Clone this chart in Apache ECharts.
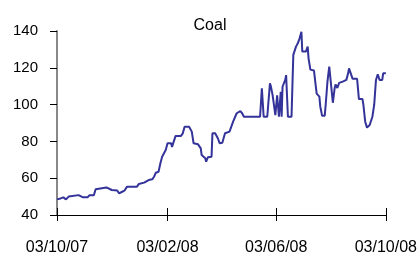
<!DOCTYPE html>
<html>
<head>
<meta charset="utf-8">
<script src="https://cdn.jsdelivr.net/npm/echarts@6/dist/echarts.min.js"></script>
<style>
    html, body { margin: 0; padding: 0; background: #fff; }
    #coalChart { width: 420px; height: 257px; }
</style>
</head>
<body>
<div id="coalChart"></div>
<script>
var dates = [
    '2007-10-03', '2007-10-07', '2007-10-10', '2007-10-13', '2007-10-16', '2007-10-27',
    '2007-11-01', '2007-11-06', '2007-11-08', '2007-11-13', '2007-11-15', '2007-11-27',
    '2007-11-28', '2007-12-03', '2007-12-09', '2007-12-11', '2007-12-14', '2007-12-17',
    '2007-12-20', '2007-12-31', '2008-01-02', '2008-01-08', '2008-01-13', '2008-01-17',
    '2008-01-19', '2008-01-21', '2008-01-24', '2008-01-26', '2008-01-28', '2008-02-01',
    '2008-02-03', '2008-02-07', '2008-02-08', '2008-02-10', '2008-02-12', '2008-02-18',
    '2008-02-20', '2008-02-22', '2008-02-27', '2008-03-01', '2008-03-03', '2008-03-08',
    '2008-03-11', '2008-03-12', '2008-03-16', '2008-03-17', '2008-03-19', '2008-03-23',
    '2008-03-24', '2008-03-27', '2008-03-30', '2008-04-01', '2008-04-04', '2008-04-07',
    '2008-04-12', '2008-04-16', '2008-04-20', '2008-04-24', '2008-04-26', '2008-04-28',
    '2008-05-16', '2008-05-18', '2008-05-20', '2008-05-24', '2008-05-27', '2008-05-28',
    '2008-05-30', '2008-06-02', '2008-06-04', '2008-06-06', '2008-06-08', '2008-06-09',
    '2008-06-10', '2008-06-13', '2008-06-14', '2008-06-16', '2008-06-20', '2008-06-22',
    '2008-06-25', '2008-06-27', '2008-06-29', '2008-07-01', '2008-07-02', '2008-07-06',
    '2008-07-08', '2008-07-09', '2008-07-11', '2008-07-15', '2008-07-17', '2008-07-18',
    '2008-07-21', '2008-07-22', '2008-07-24', '2008-07-27', '2008-07-28', '2008-07-30',
    '2008-08-01', '2008-08-03', '2008-08-05', '2008-08-07', '2008-08-08', '2008-08-10',
    '2008-08-12', '2008-08-16', '2008-08-20', '2008-08-22', '2008-08-23', '2008-08-24',
    '2008-08-27', '2008-09-01', '2008-09-03', '2008-09-07', '2008-09-08', '2008-09-09',
    '2008-09-10', '2008-09-12', '2008-09-15', '2008-09-18', '2008-09-20', '2008-09-22',
    '2008-09-24', '2008-09-26', '2008-09-29', '2008-09-30', '2008-10-03'
];
var prices = [
    48.5, 49, 49.6, 48.5, 50, 50.8,
    49.6, 49.6, 50.7, 50.7, 54, 55,
    54.5, 53.6, 53.3, 51.8, 52.5, 53.2,
    55.4, 55.4, 56.8, 57.6, 59, 59.4,
    60.8, 63, 63.5, 68, 71.7, 75.3,
    79, 79, 77, 80, 83, 83,
    84.4, 88, 88, 85.3, 79, 78.4,
    76.2, 72.6, 70.8, 69, 71.4, 71.7,
    84.4, 84.4, 81.7, 79, 79.3, 84.4,
    85.3, 90.7, 95.3, 96.5, 95.3, 93.4,
    93.4, 108.9, 93.4, 93.4, 111.6, 110,
    105, 94.3, 105, 93.4, 107, 93.4,
    109.7, 113.4, 116, 93.4, 93.4, 127,
    131.5, 133.3, 136, 139.6, 128.8, 128.8,
    131.5, 125, 119, 118.5, 110, 106,
    104.3, 99, 94, 94, 99.8, 112.5,
    120.6, 120.6, 101, 108.9, 111, 109,
    111.8, 112.5, 113.4, 117, 119.7, 119.7,
    114, 114, 103, 103, 99.8, 95.3,
    90.7, 87.5, 88.9, 93.4, 99.8, 113.4,
    116.5, 113.4, 113.4, 117, 117
];
var tickDates = ['2007-10-03', '2008-02-03', '2008-06-03', '2008-10-03'];
var yTicks = [40, 60, 80, 100, 120, 140];

function toTime(s) {
    var p = s.split('-');
    return new Date(+p[0], +p[1] - 1, +p[2]).getTime();
}
function pad(n) {
    return n < 10 ? '0' + n : '' + n;
}
function fmtDate(v) {
    var d = new Date(v);
    return pad(d.getDate()) + '/' + pad(d.getMonth() + 1) + '/' + pad(d.getFullYear() % 100);
}

var seriesData = [];
for (var i = 0, l = dates.length; i < l; i++) {
    seriesData.push([toTime(dates[i]), prices[i]]);
}
var tickTimes = tickDates.map(toTime);

var myChart = echarts.init(document.getElementById('coalChart'));
var font = 'Liberation Sans, Arial, sans-serif';
myChart.setOption({
    animation: false,
    title: {
        text: 'Coal',
        left: 'center',
        top: 13,
        textStyle: {
            fontFamily: font,
            fontSize: 16,
            fontWeight: 'normal',
            color: '#000'
        }
    },
    grid: {
        left: 57,
        right: 31,
        top: 31,
        bottom: 42
    },
    xAxis: [
        {
            // dates as timestamps on a plain value scale, ticks only at the 4 labelled days
            type: 'value',
            min: tickTimes[0],
            max: tickTimes[tickTimes.length - 1],
            axisLine: { lineStyle: { color: '#000', width: 1 } },
            axisTick: {
                show: true,
                inside: false,
                length: 6,
                customValues: tickTimes,
                lineStyle: { color: '#000' }
            },
            axisLabel: {
                customValues: tickTimes,
                showMinLabel: true,
                showMaxLabel: true,
                formatter: fmtDate,
                margin: 25,
                fontFamily: font,
                fontSize: 16,
                color: '#000'
            },
            splitLine: { show: false }
        },
        {
            type: 'value',
            position: 'bottom',
            min: tickTimes[0],
            max: tickTimes[tickTimes.length - 1],
            axisLine: { show: false },
            axisTick: {
                show: true,
                inside: true,
                length: 7,
                customValues: tickTimes,
                lineStyle: { color: '#000' }
            },
            axisLabel: { show: false },
            splitLine: { show: false }
        }
    ],
    yAxis: {
        type: 'value',
        min: yTicks[0],
        max: yTicks[yTicks.length - 1],
        interval: 20,
        axisLine: { show: true, lineStyle: { color: '#888', width: 2 } },
        axisTick: { show: true, length: 7, lineStyle: { color: '#000' } },
        axisLabel: {
            margin: 19,
            fontFamily: font,
            fontSize: 15,
            color: '#000'
        },
        splitLine: { show: false }
    },
    series: {
        name: 'Coal',
        type: 'line',
        data: seriesData,
        showSymbol: false,
        symbol: 'none',
        lineStyle: { color: '#333399', width: 2 }
    }
});
</script>
</body>
</html>
